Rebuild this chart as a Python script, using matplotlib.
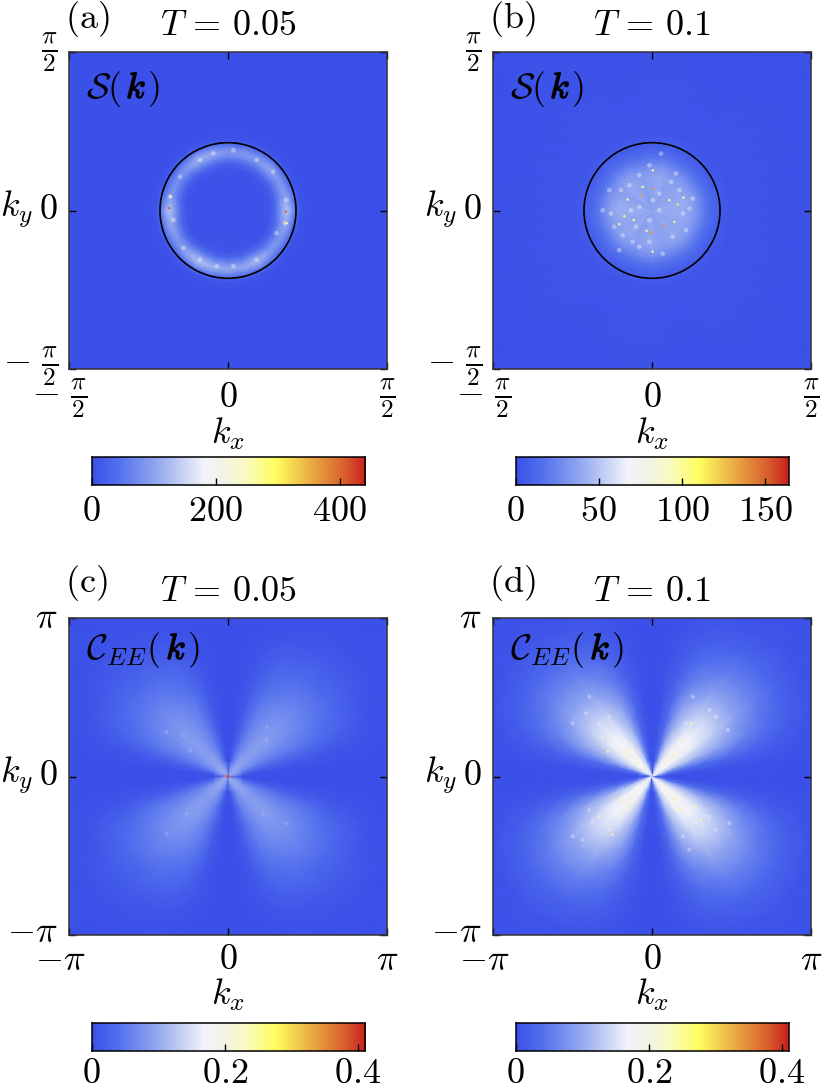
import numpy as np
import matplotlib
matplotlib.use("Agg")
import matplotlib.pyplot as plt
import matplotlib.patheffects as pe
from matplotlib.colors import LinearSegmentedColormap
from matplotlib.patches import Circle
from matplotlib.transforms import ScaledTranslation

plt.rcParams['mathtext.fontset'] = 'cm'
plt.rcParams['font.family'] = ['cmr10', 'DejaVu Sans']
plt.rcParams['axes.unicode_minus'] = False

W, H = 822, 1086
FS = 26

# panels a, b: radial profile times brightness read round the ring
sk_radius = [0, 0.06, 0.33, 0.42, 0.48, 0.53, 0.58, 0.63, 0.68, 0.72, 0.80, 2.3]
sk_angle = list(range(0, 361, 15))
ring_a = [0.02, 0.02, 0.03, 0.08, 0.30, 0.62, 0.85, 0.62, 0.20, 0.05, 0.01, 0.0]
peak_a = [150, 115, 100, 120, 105, 105, 100, 120, 135, 100, 90, 100,
          150, 120, 100, 120, 150, 135, 120, 120, 140, 105, 100, 120, 150]
ring_b = [0.85, 0.85, 0.85, 0.72, 0.55, 0.40, 0.28, 0.20, 0.14, 0.10, 0.06, 0.0]
peak_b = [46, 48, 44, 44, 42, 46, 44, 40, 44, 46, 42, 46,
          48, 46, 44, 46, 42, 44, 46, 42, 44, 46, 44, 46, 46]
hot_a_x = [-0.582, -0.566, 0.572, 0.579]
hot_a_y = [0.023, 0.138, -0.010, -0.125]
hot_a_v = [400, 280, 400, 280]
hot_b_x = [-0.273, -0.323, -0.181, 0.007, -0.109, 0.254, 0.171, 0.310,
           0.105, -0.053, -0.010, 0.007, 0.007, -0.240, -0.092, 0.221]
hot_b_y = [-0.056, -0.135, -0.095, 0.217, 0.151, 0.059, 0.102, 0.128,
           -0.151, -0.201, -0.221, -0.408, 0.398, 0.109, 0.234, -0.112]
hot_b_v = [105, 100, 100, 140, 135, 115, 100, 100,
           140, 105, 140, 100, 100, 100, 105, 100]
fermi_radius = 0.672

# pale speckles picked out of the noisy parts
speck_a_x = [-.276, -.145, .053, .283, .447, .579, .563, .283, .053, -.112,
             -.276, -.441, -.540, -.572, -.474, .480]
speck_a_y = [.500, .566, .599, .500, .385, .105, -.125, -.487, -.553, -.553,
             -.487, -.372, -.092, .138, .336, -.224]
speck_b_x = [-.406, -.307, -.224, -.125, -.026, .089, .188, .370, .403, .304,
             .205, -.026, -.158, -.290, -.422, .073, -.125, -.208, -.026, .073,
             .271, -.125, -.323, .106, .337, -.488, .007, -.191, .238, -.373]
speck_b_y = [-.030, .201, .250, .350, .449, .564, .284, .020, .119, -.030,
             -.261, -.310, -.162, -.244, .201, .003, .036, .003, -.096, .168,
             .201, -.359, -.393, -.426, -.195, .003, .102, -.310, .366, -.162]
speck_c_x = [-.883, -1.213, -.751, .764, .764, -.817, -1.213, .699, 1.160]
speck_c_y = [.811, .877, .514, .975, .712, -.738, -1.133, -.738, -.936]
speck_d_x = [-1.239, -1.041, -.712, -1.305, -.844, -1.568,
             1.133, 1.265, .804, .870, 1.502, .672,
             -1.371, -1.173, -1.568, -.844, -1.239, -.712,
             .870, 1.265, 1.133, .606, 1.530, .738]
speck_d_y = [1.582, 1.054, .791, 1.252, 1.186, 1.054,
             1.318, 1.186, 1.582, .857, .922, 1.054,
             -1.252, -.922, -1.186, -1.054, -.659, -.659,
             -.922, -1.054, -.791, -1.186, -.922, -1.450]
speck_v = [190, 70, 0.12, 0.18]

# panels c, d: first quadrant table, rows are |k|, columns the angle in degrees
ce_radius = [0, 0.06, 0.3, 0.6, 1.0, 1.5, 2.0, 2.5, 3.0, 3.6, 4.6]
ce_angle = [0, 6, 14, 24, 36, 45, 54, 66, 76, 84, 90]
table_c = [
    [.40, .40, .40, .40, .40, .40, .40, .40, .40, .40, .40],
    [.03, .08, .10, .10, .10, .10, .10, .10, .10, .08, .03],
    [.00, .01, .04, .07, .09, .09, .09, .07, .04, .01, .00],
    [.00, .00, .025, .06, .08, .085, .08, .06, .025, .00, .00],
    [.00, .00, .02, .055, .08, .085, .08, .055, .02, .00, .00],
    [.00, .00, .015, .05, .07, .075, .07, .05, .015, .00, .00],
    [.00, .00, .01, .035, .05, .055, .05, .035, .01, .00, .00],
    [.00, .00, .005, .02, .03, .03, .03, .02, .005, .00, .00],
    [.00, .00, .002, .006, .012, .014, .012, .006, .002, .00, .00],
    [.00, .00, .00, .001, .002, .003, .002, .001, .00, .00, .00],
    [.00, .00, .00, .00, .00, .00, .00, .00, .00, .00, .00],
]
table_d = [
    [.15, .15, .15, .15, .15, .15, .15, .15, .15, .15, .15],
    [.02, .05, .12, .15, .16, .16, .16, .15, .12, .05, .02],
    [.00, .01, .05, .13, .17, .18, .17, .13, .05, .01, .00],
    [.00, .005, .04, .125, .18, .19, .18, .125, .04, .005, .00],
    [.00, .004, .035, .11, .16, .17, .16, .11, .035, .004, .00],
    [.00, .003, .03, .09, .13, .14, .13, .09, .03, .003, .00],
    [.00, .002, .02, .06, .09, .095, .09, .06, .02, .002, .00],
    [.00, .002, .012, .035, .055, .06, .055, .035, .012, .002, .00],
    [.00, .00, .005, .015, .025, .028, .025, .015, .005, .00, .00],
    [.00, .00, .00, .003, .006, .008, .006, .003, .00, .00, .00],
    [.00, .00, .00, .00, .00, .00, .00, .00, .00, .00, .00],
]
hot_d_x = [-0.448, -0.514, -0.876, -0.975, -0.316, 0.408, 0.606, 0.771,
           -0.415, -0.646, -1.040, -0.777, 0.408, 0.540, 0.870, 0.968]
hot_d_y = [0.527, 0.428, 0.494, 0.758, 0.263, 0.428, 0.724, 1.054,
           -0.527, -0.461, -0.790, -1.152, -0.461, -0.659, -0.593, -0.856]
hot_d_v = [0.25] * 16

cbar_ticks = [[0, 200, 400], [0, 50, 100, 150], [0, 0.2, 0.4], [0, 0.2, 0.4]]
cbar_labels = [['0', '200', '400'], ['0', '50', '100', '150'],
               ['0', '0.2', '0.4'], ['0', '0.2', '0.4']]
vmax = [440, 164, 0.41, 0.41]

cmap = LinearSegmentedColormap.from_list('heat', [
    (0.0, '#3B50E8'), (0.1, '#5472EE'), (0.25, '#9AAEF0'), (0.41, '#F3F5FA'),
    (0.47, '#F2F2EC'), (0.56, '#FAFAC4'), (0.67, '#FFFF60'), (0.82, '#E8A040'),
    (0.93, '#D85A2C'), (1.0, '#C8201F')])


def px_axes(x0, y0, x1, y1):
    return fig.add_axes([x0 / W, 1 - y1 / H, (x1 - x0) / W, (y1 - y0) / H])


def polar_mesh(ax, radius, angle, values, top):
    r, a = np.meshgrid(radius, np.radians(angle), indexing='ij')
    ax.pcolormesh(r * np.cos(a), r * np.sin(a), values, cmap=cmap, vmin=0,
                  vmax=top, shading='gouraud', rasterized=True)


def dots(ax, x, y, v, top, size, alpha=1.0):
    v = np.full(len(x), v) if np.isscalar(v) else v
    ax.scatter(x, y, c=v, s=size, cmap=cmap, vmin=0, vmax=top, linewidths=0,
               alpha=alpha)


def nudge(label, dx, dy):
    label.set_transform(label.get_transform()
                        + ScaledTranslation(dx / 100, dy / 100, fig.dpi_scale_trans))


fig = plt.figure(figsize=(W / 100, H / 100), dpi=100)

ce_full = ce_angle + [180 - t for t in ce_angle[::-1][1:]]
ce_full = ce_full + [180 + t for t in ce_full[1:]]

lefts = [69, 493, 69, 493]
tops = [52, 52, 618, 618]
names = ['(a)', '(b)', '(c)', '(d)']
temps = ['0.05', '0.1', '0.05', '0.1']
specks = [(speck_a_x, speck_a_y), (speck_b_x, speck_b_y),
          (speck_c_x, speck_c_y), (speck_d_x, speck_d_y)]
for i in range(4):
    x0, y0 = lefts[i], tops[i]
    ax = px_axes(x0, y0, x0 + 318, y0 + 317)
    ax.set_facecolor(cmap(0))
    if i < 2:
        ring = [ring_a, ring_b][i]
        peak = [peak_a, peak_b][i]
        polar_mesh(ax, sk_radius, sk_angle, np.outer(ring, peak), vmax[i])
        dots(ax, specks[i][0], specks[i][1], speck_v[i], vmax[i], 11, 0.4)
        hx, hy, hv = [(hot_a_x, hot_a_y, hot_a_v), (hot_b_x, hot_b_y, hot_b_v)][i]
        dots(ax, hx, hy, hv, vmax[i], 3)
        ax.add_patch(Circle((0, 0), fermi_radius, fill=False, ec='black', lw=1.2))
        lim = np.pi / 2
        ends = [r'$-\ \frac{\pi}{2}$', r'$\frac{\pi}{2}$']
    else:
        tab = np.array([table_c, table_d][i - 2])
        half = np.hstack([tab, tab[:, ::-1][:, 1:]])
        full = np.hstack([half, half[:, 1:]])
        polar_mesh(ax, ce_radius, ce_full, full, vmax[i])
        dots(ax, specks[i][0], specks[i][1], speck_v[i], vmax[i], 9, 0.35)
        if i == 3:
            dots(ax, hot_d_x, hot_d_y, hot_d_v, vmax[i], 2.5)
        lim = np.pi
        ends = [r'$-\pi$', r'$\pi$']
    ax.set_xlim(-lim, lim)
    ax.set_ylim(-lim, lim)
    ax.set_xticks([-lim, 0, lim], [ends[0], '$0$', ends[1]])
    ax.set_yticks([-lim, 0, lim], [ends[0], '$0$', ends[1]])
    ax.tick_params(direction='in', top=True, right=True, length=5, width=1,
                   labelsize=FS)
    ax.tick_params(axis='y', pad=8)
    ax.tick_params(axis='x', pad=21 if i < 2 else 18)
    for lab in ax.get_xticklabels():
        lab.set_va('center')
    for lab in ax.get_yticklabels():
        lab.set_va('center')
    # the end labels sit a little off their ticks in the original
    nudge(ax.get_xticklabels()[0], -9, 0)
    nudge(ax.get_yticklabels()[0], 0, 3)
    for s in ax.spines.values():
        s.set_color('#333333')
        s.set_linewidth(1.1)

    fig.text((x0 + 159) / W, 1 - (y0 + (387 - 5 * (i > 1) + 5)) / H, '$k_x$',
             fontsize=FS, ha='center', va='baseline')
    fig.text((x0 - 69) / W, 1 - (y0 + 165) / H, '$k_y$', fontsize=FS,
             ha='left', va='baseline')
    fig.text((x0 - 4) / W, 1 - (y0 - (24 if i < 2 else 26)) / H,
             '$\\mathrm{' + names[i] + '}$', fontsize=FS, ha='left', va='baseline')
    fig.text((x0 + 159) / W, 1 - (y0 - 17) / H, '$T\\,=\\,' + temps[i] + '$',
             fontsize=FS, ha='center', va='baseline')

    # bold k is not in the cm mathtext fonts, so stroke it
    base = 1 - (y0 + (46 if i < 2 else 41)) / H
    if i < 2:
        fig.text((x0 + 17) / W, base, r'$\mathcal{S}($', fontsize=FS, va='baseline')
        kx = x0 + 57
        cx = x0 + 78
    else:
        fig.text((x0 + 17) / W, base, r'$\mathcal{C}_{EE}($', fontsize=FS, va='baseline')
        kx = x0 + 97
        cx = x0 + 118
    fig.text(kx / W, base, '$k$', fontsize=FS, va='baseline',
             path_effects=[pe.withStroke(linewidth=0.9, foreground='black')])
    fig.text(cx / W, base, '$)$', fontsize=FS, va='baseline')

    cy = 457 if i < 2 else 1023
    cax = px_axes(x0 + 22.5, cy, x0 + 295.5, cy + 28)
    grad = np.linspace(0, vmax[i], 256).reshape(1, -1)
    cax.imshow(grad, aspect='auto', cmap=cmap, vmin=0, vmax=vmax[i],
               extent=[0, vmax[i], 0, 1])
    cax.set_yticks([])
    cax.set_xticks(cbar_ticks[i], ['$' + t + '$' for t in cbar_labels[i]])
    cax.tick_params(direction='in', length=5, width=1, labelsize=FS,
                    pad=8 if i < 2 else 5)
    for s in cax.spines.values():
        s.set_linewidth(1.1)

fig.savefig('out.png', dpi=100)
